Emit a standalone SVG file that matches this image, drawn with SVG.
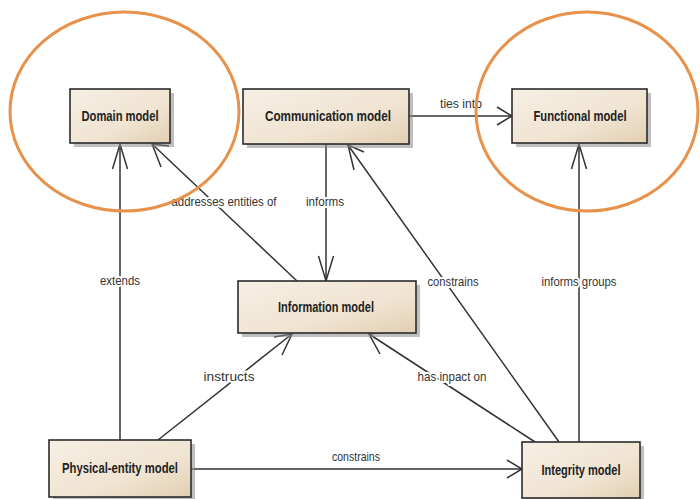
<svg xmlns="http://www.w3.org/2000/svg" width="700" height="499" viewBox="0 0 700 499">
<style>
.box{fill:url(#g);stroke:#2b2b2b;stroke-width:1.6}
.sh{fill:#8a8a8a;opacity:0.55}
.nt{font-family:"Liberation Sans",Arial,sans-serif;font-weight:bold;font-size:15px;fill:#222;text-anchor:middle}
.lb{font-family:"Liberation Sans",Arial,sans-serif;font-size:13.5px;fill:#333;text-anchor:middle;stroke:#fff;stroke-width:4px;paint-order:stroke;stroke-linejoin:round}
.ln{stroke:#333;stroke-width:1.5;fill:none}
.ah{stroke:#333;stroke-width:1.5;fill:none;stroke-linejoin:miter}
.ell{fill:none;stroke:#e8914a;stroke-width:3}
</style>
<defs>
<linearGradient id="g" x1="0" y1="0" x2="1" y2="1">
<stop offset="0" stop-color="#f6efe4"/>
<stop offset="0.6" stop-color="#f0e4d2"/>
<stop offset="1" stop-color="#e2cfb2"/>
</linearGradient>
</defs>
<rect width="700" height="499" fill="#fff"/>
<g id="connectors">
<line class="ln" x1="120" y1="440" x2="120" y2="144"/>
<path class="ah" d="M112.5,169 L120,144 L127.5,169"/>
<text class="lb" x="120" y="285" textLength="40" lengthAdjust="spacingAndGlyphs">extends</text>
<line class="ln" x1="297" y1="281" x2="152" y2="144"/>
<path class="ah" d="M169,146 L152,144 L161,167"/>
<text class="lb" x="224" y="206" textLength="105" lengthAdjust="spacingAndGlyphs">addresses entities of</text>
<line class="ln" x1="326" y1="144" x2="326" y2="281"/>
<path class="ah" d="M318.5,256 L326,281 L333.5,256"/>
<text class="lb" x="325" y="206" textLength="38" lengthAdjust="spacingAndGlyphs">informs</text>
<line class="ln" x1="409" y1="116" x2="512" y2="116"/>
<path class="ah" d="M497,107 L512,116 L497,125"/>
<text class="lb" x="461" y="108" textLength="42" lengthAdjust="spacingAndGlyphs">ties into</text>
<line class="ln" x1="559" y1="442" x2="348" y2="145"/>
<path class="ah" d="M364,152 L348,145 L354,170"/>
<text class="lb" x="453" y="286" textLength="51" lengthAdjust="spacingAndGlyphs">constrains</text>
<line class="ln" x1="535" y1="442" x2="369" y2="334"/>
<path class="ah" d="M386,332 L369,334 L380,354"/>
<text class="lb" x="452" y="381" textLength="69" lengthAdjust="spacingAndGlyphs">has inpact on</text>
<line class="ln" x1="579" y1="442" x2="579" y2="144"/>
<path class="ah" d="M571.5,169 L579,144 L586.5,169"/>
<text class="lb" x="579" y="286" textLength="75" lengthAdjust="spacingAndGlyphs">informs groups</text>
<line class="ln" x1="158" y1="440" x2="292" y2="334"/>
<path class="ah" d="M282,355 L292,334 L274,337"/>
<text class="lb" x="229" y="381" textLength="51" lengthAdjust="spacingAndGlyphs">instructs</text>
<line class="ln" x1="191" y1="469" x2="522" y2="469"/>
<path class="ah" d="M507,460 L522,469 L507,478"/>
<text class="lb" x="356" y="461" textLength="48" lengthAdjust="spacingAndGlyphs">constrains</text>
</g>
<g id="domain">
<rect class="sh" x="74" y="93" width="100" height="54"/>
<rect class="box" x="70" y="89" width="100" height="54"/>
<text class="nt" x="120" y="121" textLength="77" lengthAdjust="spacingAndGlyphs">Domain model</text>
</g>
<g id="communication">
<rect class="sh" x="247" y="93" width="166" height="55"/>
<rect class="box" x="243" y="89" width="166" height="55"/>
<text class="nt" x="328" y="121" textLength="126" lengthAdjust="spacingAndGlyphs">Communication model</text>
</g>
<g id="functional">
<rect class="sh" x="516" y="93" width="135" height="54"/>
<rect class="box" x="512" y="89" width="135" height="54"/>
<text class="nt" x="580" y="121" textLength="93" lengthAdjust="spacingAndGlyphs">Functional model</text>
</g>
<g id="information">
<rect class="sh" x="242" y="285" width="178" height="52"/>
<rect class="box" x="238" y="281" width="178" height="52"/>
<text class="nt" x="326" y="312" textLength="96" lengthAdjust="spacingAndGlyphs">Information model</text>
</g>
<g id="physical">
<rect class="sh" x="53" y="444" width="142" height="57"/>
<rect class="box" x="49" y="440" width="142" height="57"/>
<text class="nt" x="120" y="473" textLength="116" lengthAdjust="spacingAndGlyphs">Physical-entity model</text>
</g>
<g id="integrity">
<rect class="sh" x="526" y="446" width="118" height="56"/>
<rect class="box" x="522" y="442" width="118" height="56"/>
<text class="nt" x="581" y="475" textLength="79" lengthAdjust="spacingAndGlyphs">Integrity model</text>
</g>
<g id="highlights">
<ellipse class="ell" cx="124.5" cy="111.5" rx="114.5" ry="99.5"/>
<ellipse class="ell" cx="587" cy="111.5" rx="111" ry="99.5"/>
</g>
</svg>
